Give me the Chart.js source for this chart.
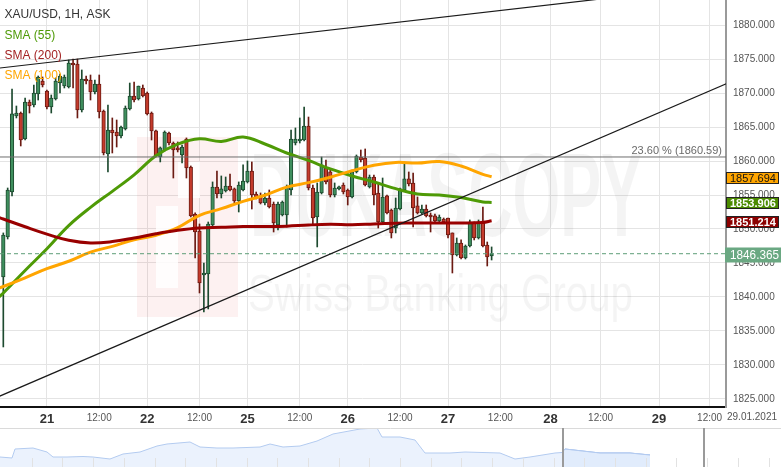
<!DOCTYPE html>
<html>
<head>
<meta charset="utf-8">
<title>XAU/USD 1H</title>
<script src="https://cdn.jsdelivr.net/npm/chart.js@4.4.1/dist/chart.umd.min.js"></script>
<style>
  body { margin: 0; background: #fff; }
  #wrap { position: relative; width: 781px; height: 467px; overflow: hidden; background: #fff; }
  #mainChart { position: absolute; left: 0; top: 0; }
  #navChart { position: absolute; left: 0; top: 428px; }
</style>
</head>
<body>
<div id="wrap">
  <canvas id="mainChart" width="781" height="428"></canvas>
  <canvas id="navChart" width="781" height="39"></canvas>
</div>
<script>
// Hourly candles, index 0 = first visible bar (Jan 20 afternoon)
const opens = [
  1842.94, 1848.83, 1855.44, 1866.62, 1867.06, 1863.24, 1868.68, 1868.24, 1869.86, 1871.77,
  1870.30, 1867.94, 1869.12, 1871.47, 1871.03, 1870.89, 1874.42, 1874.27, 1867.50, 1872.06,
  1871.92, 1870.15, 1871.33, 1867.36, 1861.03, 1864.56, 1864.27, 1863.68, 1864.71, 1867.65,
  1869.56, 1869.12, 1870.74, 1870.00, 1867.06, 1864.42, 1860.59, 1861.62, 1864.12, 1862.65,
  1861.92, 1860.89, 1863.24, 1859.12, 1852.21, 1849.71, 1843.24, 1843.39, 1850.59, 1856.18,
  1855.15, 1855.59, 1856.33, 1855.89, 1854.12, 1855.74, 1856.92, 1858.53, 1855.15, 1854.86,
  1853.83, 1854.56, 1853.68, 1850.59, 1852.06, 1852.06, 1855.74, 1862.65, 1862.94, 1863.09,
  1865.15, 1856.03, 1851.77, 1855.30, 1858.97, 1858.39, 1855.00, 1855.89, 1856.47, 1855.74,
  1854.71, 1858.39, 1860.59, 1860.44, 1856.18, 1857.65, 1855.30, 1851.03, 1854.86, 1852.80,
  1850.15, 1852.94, 1855.74, 1857.36, 1856.77, 1853.39, 1852.36, 1852.94, 1852.06, 1851.92,
  1851.18, 1851.47, 1851.62, 1849.42, 1846.18, 1847.94, 1845.74, 1847.50, 1851.03, 1848.68,
  1851.18, 1847.65, 1846.03
];
const highs = [
  1849.42, 1856.03, 1870.59, 1868.09, 1867.21, 1869.27, 1868.97, 1871.18, 1872.50, 1872.36,
  1870.44, 1869.71, 1872.21, 1872.80, 1872.65, 1874.86, 1875.00, 1875.00, 1873.39, 1872.50,
  1872.65, 1871.92, 1872.65, 1867.50, 1868.24, 1866.33, 1866.03, 1865.15, 1868.09, 1871.47,
  1871.62, 1871.03, 1871.18, 1870.15, 1867.21, 1864.56, 1862.06, 1864.42, 1864.27, 1862.80,
  1862.80, 1862.36, 1863.39, 1859.27, 1852.36, 1850.74, 1845.00, 1851.03, 1856.92, 1858.53,
  1857.80, 1857.65, 1858.09, 1856.03, 1856.92, 1859.42, 1860.00, 1859.86, 1855.44, 1855.30,
  1855.30, 1855.74, 1853.97, 1853.97, 1854.12, 1856.47, 1864.56, 1864.86, 1866.33, 1867.94,
  1866.47, 1856.47, 1856.77, 1860.59, 1860.15, 1858.68, 1856.77, 1856.33, 1856.77, 1855.89,
  1858.68, 1860.89, 1861.62, 1861.77, 1857.94, 1857.94, 1856.62, 1857.50, 1855.00, 1852.94,
  1854.56, 1856.03, 1859.86, 1858.39, 1858.24, 1854.71, 1853.53, 1853.53, 1852.36, 1852.21,
  1852.06, 1851.62, 1851.62, 1849.42, 1848.68, 1848.39, 1847.65, 1851.33, 1851.03, 1851.33,
  1853.24, 1848.09, 1847.36
];
const lows = [
  1832.65, 1848.53, 1854.86, 1866.33, 1862.21, 1863.09, 1867.06, 1867.94, 1868.97, 1870.89,
  1867.65, 1867.06, 1868.97, 1870.00, 1870.74, 1870.74, 1870.74, 1866.33, 1867.21, 1871.33,
  1868.97, 1869.86, 1866.33, 1860.89, 1858.39, 1861.18, 1862.06, 1863.39, 1864.56, 1867.50,
  1868.68, 1868.97, 1869.42, 1866.77, 1863.09, 1860.59, 1859.86, 1861.47, 1862.36, 1857.50,
  1861.33, 1859.71, 1857.50, 1851.77, 1845.74, 1840.59, 1837.80, 1838.24, 1850.44, 1854.56,
  1854.56, 1855.44, 1855.59, 1853.83, 1852.50, 1855.59, 1856.77, 1852.94, 1854.42, 1853.68,
  1853.53, 1853.09, 1849.56, 1849.86, 1851.92, 1850.30, 1855.00, 1862.36, 1862.65, 1862.94,
  1855.74, 1850.59, 1847.36, 1855.15, 1856.62, 1854.71, 1854.71, 1855.74, 1855.15, 1853.53,
  1854.56, 1858.24, 1859.86, 1856.33, 1856.03, 1853.53, 1850.15, 1850.74, 1852.21, 1848.68,
  1849.42, 1852.80, 1855.59, 1856.33, 1850.30, 1852.21, 1852.21, 1851.77, 1849.56, 1851.03,
  1851.03, 1850.89, 1848.68, 1843.53, 1846.03, 1845.59, 1845.59, 1847.36, 1848.39, 1848.53,
  1847.36, 1844.56, 1845.44
];
const closes = [
  1849.12, 1855.74, 1866.92, 1867.06, 1863.09, 1868.68, 1868.09, 1870.00, 1872.36, 1871.18,
  1867.94, 1869.27, 1871.77, 1872.50, 1872.36, 1874.42, 1874.12, 1867.50, 1872.06, 1871.77,
  1870.15, 1871.33, 1867.21, 1861.18, 1864.56, 1864.12, 1863.68, 1865.00, 1867.80, 1869.56,
  1868.97, 1871.03, 1869.56, 1866.92, 1864.42, 1860.74, 1861.92, 1864.27, 1862.65, 1861.62,
  1861.62, 1862.06, 1858.97, 1851.92, 1849.56, 1842.06, 1843.53, 1850.74, 1856.18, 1855.15,
  1855.89, 1856.33, 1855.74, 1854.12, 1856.47, 1857.06, 1858.53, 1855.00, 1854.71, 1853.83,
  1854.56, 1853.24, 1850.89, 1853.68, 1853.97, 1856.18, 1863.24, 1863.24, 1863.24, 1865.15,
  1856.03, 1851.62, 1855.44, 1859.42, 1856.92, 1855.00, 1856.03, 1856.18, 1855.44, 1854.71,
  1858.39, 1860.74, 1860.15, 1856.47, 1857.65, 1855.00, 1851.03, 1854.71, 1852.36, 1849.42,
  1853.09, 1855.89, 1857.36, 1856.62, 1853.09, 1852.36, 1852.94, 1851.92, 1851.77, 1851.18,
  1851.77, 1851.03, 1849.12, 1846.18, 1847.94, 1845.74, 1847.50, 1851.03, 1848.68, 1851.03,
  1847.50, 1845.89, 1846.37
];

// Moving averages, sampled at these bar indices
const smaIdx = [-1, 0, 5, 10, 15, 20, 25, 30, 35, 40, 45, 50, 55, 60, 65, 70, 75, 80, 85, 90, 95, 100, 105, 110, 112];
const sma55 = [1840.00, 1840.59, 1843.90, 1847.09, 1850.50, 1853.18, 1855.54, 1857.96, 1860.77, 1862.47, 1863.27, 1862.87,
  1863.53, 1862.50, 1861.18, 1860.08, 1858.83, 1857.80, 1856.92, 1855.93, 1855.15, 1855.00, 1854.63, 1853.97, 1853.91];
const sma100 = [1841.32, 1841.54, 1842.82, 1844.16, 1845.26, 1846.60, 1847.45, 1848.41, 1849.09, 1850.21, 1852.02, 1852.99,
  1854.07, 1854.97, 1856.16, 1856.82, 1857.62, 1858.56, 1859.38, 1859.79, 1859.70, 1859.93, 1859.26, 1858.04, 1857.69];
const sma200 = [1851.69, 1851.47, 1850.33, 1849.25, 1848.34, 1847.94, 1848.15, 1848.68, 1849.30, 1849.81, 1850.15, 1850.24,
  1850.37, 1850.37, 1850.42, 1850.59, 1850.68, 1850.62, 1850.74, 1850.84, 1850.89, 1850.89, 1850.89, 1850.96, 1851.21];

// Trend lines (end points in bar index / price)
const trendX = [-1, 166];
const upperTrend = [1873.66, 1885.97];
const lowerTrend = [1825.37, 1871.42];

const fibLevel = 1860.59;
const fibText = '23.60 % (1860.59)';
const lastPrice = 1846.365;

// Price tags on the right axis
const tagValues = [1857.694, 1853.906, 1851.214];
const tagLabels = ['1857.694', '1853.906', '1851.214'];

// Axes
const xMin = -0.76, xMax = 165.76;
const yMin = 1823.82, yMax = 1883.68;
const yTickVals = [1825, 1830, 1835, 1840, 1845, 1850, 1855, 1860, 1865, 1870, 1875, 1880];
const xTickVals = [10, 22, 33, 45, 56, 68, 79, 91, 102, 114, 125.5, 137, 150.4, 162];
const xTickLabels = ['21', '12:00', '22', '12:00', '25', '12:00', '26', '12:00', '27', '12:00', '28', '12:00', '29', '12:00'];
const endDateLabel = '29.01.2021';

const legendTexts = ['XAU/USD, 1H, ASK', 'SMA (55)', 'SMA (200)', 'SMA (100)'];

// Navigator (overview strip)
const navX = [0, 6, 7.5, 16.5, 23.5, 26.5, 33.5, 41.5, 46.5, 55, 61.5, 70, 78.5, 83.5, 95, 100, 108.5, 116.5, 130, 135,
  141.5, 150, 158.5, 166.5, 180, 188.5, 191, 200, 207.5, 212.5, 225, 232.5, 250, 257.5, 265, 277.5, 281, 282.5, 300, 315, 325];
const navLevel = [1820, 1818, 1836, 1838, 1830, 1820, 1820, 1821, 1820, 1816, 1826, 1830, 1842, 1846, 1850, 1840, 1838, 1838, 1840, 1846,
  1840, 1842, 1852, 1866, 1876, 1878, 1860, 1860, 1854, 1828, 1828, 1830, 1828, 1816, 1820, 1828, 1829, 1836, 1828, 1828, 1824];
const navWindow = [281.5, 351.75];

const FONT = "'Liberation Sans', Arial, sans-serif";
Chart.defaults.font.family = FONT;

const upCol = '#3f8f5e', upEdge = '#1d4a2f';
const dnCol = '#c43b2c', dnEdge = '#6b1a12';
const isUp = closes.map((c, i) => c >= opens[i]);
const dayTicks = new Set([10, 33, 56, 79, 102, 125.5, 150.4]);

function line(xs, ys) {
    return xs.map((x, i) => ({ x, y: ys[i] }));
}

const overlay = {
    id: 'overlay',
    beforeDatasetsDraw(chart) {
        const { ctx, chartArea: a } = chart;
        ctx.save();
        ctx.beginPath();
        ctx.rect(a.left, a.top, a.right - a.left, a.bottom - a.top);
        ctx.clip();
        // faint watermark
        ctx.fillStyle = 'rgba(230, 60, 60, 0.07)';
        ctx.fillRect(137, 137, 101, 180);
        ctx.fillStyle = 'rgba(255,255,255,0.85)';
        ctx.fillRect(156, 206, 22, 82);
        ctx.fillRect(178, 162, 22, 36);
        ctx.fillStyle = 'rgba(0,0,0,0.045)';
        ctx.font = 'bold 118px ' + FONT;
        ctx.textBaseline = 'alphabetic';
        ctx.fillText('DUKASCOPY', 250, 236, 392);
        ctx.font = '52px ' + FONT;
        ctx.fillText('Swiss Banking Group', 248, 311, 385);
        ctx.restore();
    },
    afterDraw(chart) {
        const { ctx, chartArea: a, scales: { y } } = chart;
        ctx.save();
        // legend
        const legendCols = ['#333333', '#4e9a06', '#a32222', '#ffa500'];
        const legendY = [15, 36, 56, 76];
        ctx.font = '12px ' + FONT;
        ctx.textBaseline = 'middle';
        ctx.textAlign = 'left';
        legendTexts.forEach((t, i) => {
            ctx.fillStyle = legendCols[i];
            ctx.fillText(t, 4.5, legendY[i]);
        });
        // fibonacci label
        ctx.font = '11px ' + FONT;
        ctx.fillStyle = '#6a6a6a';
        ctx.textAlign = 'right';
        ctx.textBaseline = 'alphabetic';
        ctx.fillText(fibText, a.right - 4, y.getPixelForValue(fibLevel) - 3);
        // SMA tags
        const tagBg = ['#ffa500', '#4b8b00', '#8b0000'];
        const tagFg = ['#111111', '#ffffff', '#ffffff'];
        ctx.textAlign = 'left';
        ctx.textBaseline = 'middle';
        tagValues.forEach((v, i) => {
            const py = Math.round(y.getPixelForValue(v)) + 1;
            ctx.fillStyle = tagBg[i];
            ctx.fillRect(726, py - 6, 53, 12);
            ctx.strokeStyle = '#222';
            ctx.lineWidth = 1;
            ctx.strokeRect(726.5, py - 5.5, 52, 11);
            ctx.fillStyle = tagFg[i];
            ctx.font = (i ? 'bold ' : '') + '11px ' + FONT;
            ctx.fillText(tagLabels[i], 730, py + 0.5, 46);
        });
        // last price tag
        const lp = Math.round(y.getPixelForValue(lastPrice)) + 1;
        ctx.fillStyle = '#6aa882';
        ctx.fillRect(725, lp - 7.5, 56, 15);
        ctx.fillStyle = '#ffffff';
        ctx.font = '13px ' + FONT;
        ctx.fillText(lastPrice.toFixed(3), 730, lp + 0.5, 49);
        // end date on the time axis
        ctx.fillStyle = '#555';
        ctx.font = '10px ' + FONT;
        ctx.textAlign = 'center';
        ctx.fillText(endDateLabel, 752, a.bottom + 10);
        ctx.restore();
    }
};

new Chart(document.getElementById('mainChart'), {
    type: 'bar',
    data: {
        datasets: [
            {
                type: 'line', data: line(trendX, upperTrend),
                borderColor: '#1a1a1a', borderWidth: 1.2, pointRadius: 0, order: 0
            },
            {
                type: 'line', data: line(trendX, lowerTrend),
                borderColor: '#1a1a1a', borderWidth: 1.2, pointRadius: 0, order: 0
            },
            {
                type: 'line', data: line([xMin, xMax], [fibLevel, fibLevel]),
                borderColor: '#6e6e6e', borderWidth: 1, pointRadius: 0, order: 1
            },
            {
                type: 'line', data: line([xMin, xMax], [lastPrice, lastPrice]),
                borderColor: '#5e9e78', borderWidth: 1, borderDash: [4, 3], pointRadius: 0, order: 1
            },
            {
                type: 'line', data: line(smaIdx, sma200),
                borderColor: '#990000', borderWidth: 3, pointRadius: 0, tension: 0.4, order: 2
            },
            {
                type: 'line', data: line(smaIdx, sma100),
                borderColor: '#ffa500', borderWidth: 3, pointRadius: 0, tension: 0.4, order: 2
            },
            {
                type: 'line', data: line(smaIdx, sma55),
                borderColor: '#4e9a06', borderWidth: 3, pointRadius: 0, tension: 0.4, order: 2
            },
            {
                type: 'bar', grouped: false, order: 3,
                data: opens.map((o, i) => ({ x: i, y: [o, closes[i]] })),
                backgroundColor: isUp.map(u => u ? upCol : dnCol),
                borderColor: isUp.map(u => u ? upEdge : dnEdge),
                borderWidth: 1, borderSkipped: false, barThickness: 3.6, minBarLength: 2
            },
            {
                type: 'bar', grouped: false, order: 4,
                data: lows.map((l, i) => ({ x: i, y: [l, highs[i]] })),
                backgroundColor: isUp.map(u => u ? upEdge : dnEdge),
                borderWidth: 0, barThickness: 1
            }
        ]
    },
    options: {
        responsive: false,
        animation: false,
        devicePixelRatio: 1,
        layout: { padding: 0 },
        plugins: { legend: { display: false }, tooltip: { enabled: false } },
        scales: {
            x: {
                type: 'linear', min: xMin, max: xMax, offset: false,
                grid: { color: '#e4e4e4', drawTicks: false, offset: false },
                border: { display: true, color: '#111', width: 2 },
                ticks: {
                    padding: 5, maxRotation: 0, autoSkip: false,
                    callback: (v, i) => xTickLabels[i],
                    font: ctx => dayTicks.has(ctx.tick && ctx.tick.value)
                        ? { size: 13, weight: 'bold', family: "'Liberation Sans Narrow', " + FONT }
                        : { size: 10, family: FONT },
                    color: ctx => dayTicks.has(ctx.tick && ctx.tick.value) ? '#333' : '#555'
                },
                afterBuildTicks: s => { s.ticks = xTickVals.map(v => ({ value: v })); },
                afterFit: s => { s.height = 21; s.paddingLeft = 0; s.paddingRight = 0; }
            },
            y: {
                position: 'right', min: yMin, max: yMax,
                grid: { color: '#e4e4e4', drawTicks: false },
                border: { display: true, color: '#9a9a9a', width: 2 },
                ticks: { padding: 7, color: '#555', font: { size: 10 }, callback: v => v.toFixed(3) },
                afterBuildTicks: s => { s.ticks = yTickVals.map(v => ({ value: v })); },
                afterFit: s => { s.width = 55; s.paddingTop = 0; s.paddingBottom = 0; }
            }
        }
    },
    plugins: [overlay]
});

const navDecor = {
    id: 'navDecor',
    afterDatasetsDraw(chart) {
        const { ctx, chartArea: a, scales: { x } } = chart;
        ctx.save();
        ctx.strokeStyle = '#e2e2e2';
        ctx.lineWidth = 1;
        for (let v = 15.85; v < 390; v += 15.35) {
            const px = Math.round(x.getPixelForValue(v)) + 0.5;
            ctx.beginPath();
            ctx.moveTo(px, a.bottom - 9);
            ctx.lineTo(px, a.bottom);
            ctx.stroke();
        }
        ctx.strokeStyle = '#dadada';
        ctx.beginPath();
        ctx.moveTo(a.left, 0.5);
        ctx.lineTo(a.right, 0.5);
        ctx.stroke();
        ctx.strokeStyle = '#9a9a9a';
        ctx.lineWidth = 2;
        navWindow.forEach(v => {
            const px = Math.round(x.getPixelForValue(v));
            ctx.beginPath();
            ctx.moveTo(px, a.top);
            ctx.lineTo(px, a.bottom);
            ctx.stroke();
        });
        ctx.restore();
    }
};

new Chart(document.getElementById('navChart'), {
    type: 'line',
    data: {
        datasets: [
            {
                data: line(navX, navLevel),
                borderColor: '#b3cbf0', borderWidth: 1, pointRadius: 0,
                backgroundColor: 'rgba(226, 236, 252, 0.7)', fill: 'start'
            },
            {
                data: line(navX, navLevel).filter(p => p.x >= navWindow[0] - 0.5),
                borderColor: '#8eaee6', borderWidth: 1, pointRadius: 0,
                backgroundColor: 'rgba(205, 222, 250, 0.6)', fill: 'start'
            }
        ]
    },
    options: {
        responsive: false,
        animation: false,
        devicePixelRatio: 1,
        layout: { padding: 0 },
        plugins: { legend: { display: false }, tooltip: { enabled: false } },
        scales: {
            x: { type: 'linear', display: false, min: 0, max: 390.5 },
            y: { display: false, min: 1800, max: 1878 }
        }
    },
    plugins: [navDecor]
});
</script>
</body>
</html>
